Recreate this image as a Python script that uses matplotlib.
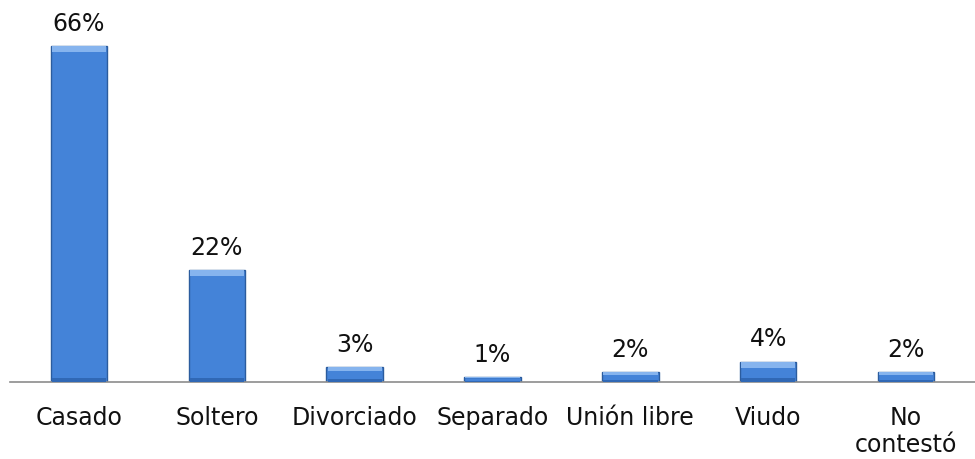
import matplotlib
matplotlib.use("Agg")
import matplotlib.pyplot as plt
import numpy as np

categories = ["Casado", "Soltero", "Divorciado", "Separado", "Unión libre", "Viudo", "No\ncontestó"]
values = [66, 22, 3, 1, 2, 4, 2]
labels = ["66%", "22%", "3%", "1%", "2%", "4%", "2%"]

plt.rcParams['font.family'] = ['DejaVu Sans']

fig = plt.figure(figsize=(9.75, 4.59), dpi=100)
ax = fig.add_axes([0.0103, 0.1678, 0.9897, 0.7756])

x = np.arange(len(categories))
w = 0.41
ax.bar(x, values, width=w, color="#4483d8", edgecolor="#2b5c9e", linewidth=1.0, zorder=2)

# bevel: light top strip and darker bottom strip
bev = [min(1.2, v * 0.3) for v in values]
ax.bar(x, bev, bottom=[v - b for v, b in zip(values, bev)], width=w * 0.96,
       color="#86b4ee", linewidth=0, zorder=3)
ax.bar(x, [b * 0.6 for b in bev], width=w * 0.96, color="#3068b5", linewidth=0, zorder=3)

for xi, v, lab in zip(x, values, labels):
    ax.text(xi, v + 2.0, lab, ha="center", va="bottom", fontsize=17, color="#111111")

ax.set_xlim(-0.5, 6.5)
ax.set_ylim(0, 70)
ax.set_xticks(x)
ax.set_xticklabels(categories, fontsize=17, color="#111111", linespacing=1.2, va="top")
ax.tick_params(axis="x", length=0, pad=17)
ax.set_yticks([])
for s in ["top", "right", "left"]:
    ax.spines[s].set_visible(False)
ax.spines["bottom"].set_color("#8c8c8c")
ax.spines["bottom"].set_linewidth(1.2)

fig.savefig("out.png", dpi=100)
